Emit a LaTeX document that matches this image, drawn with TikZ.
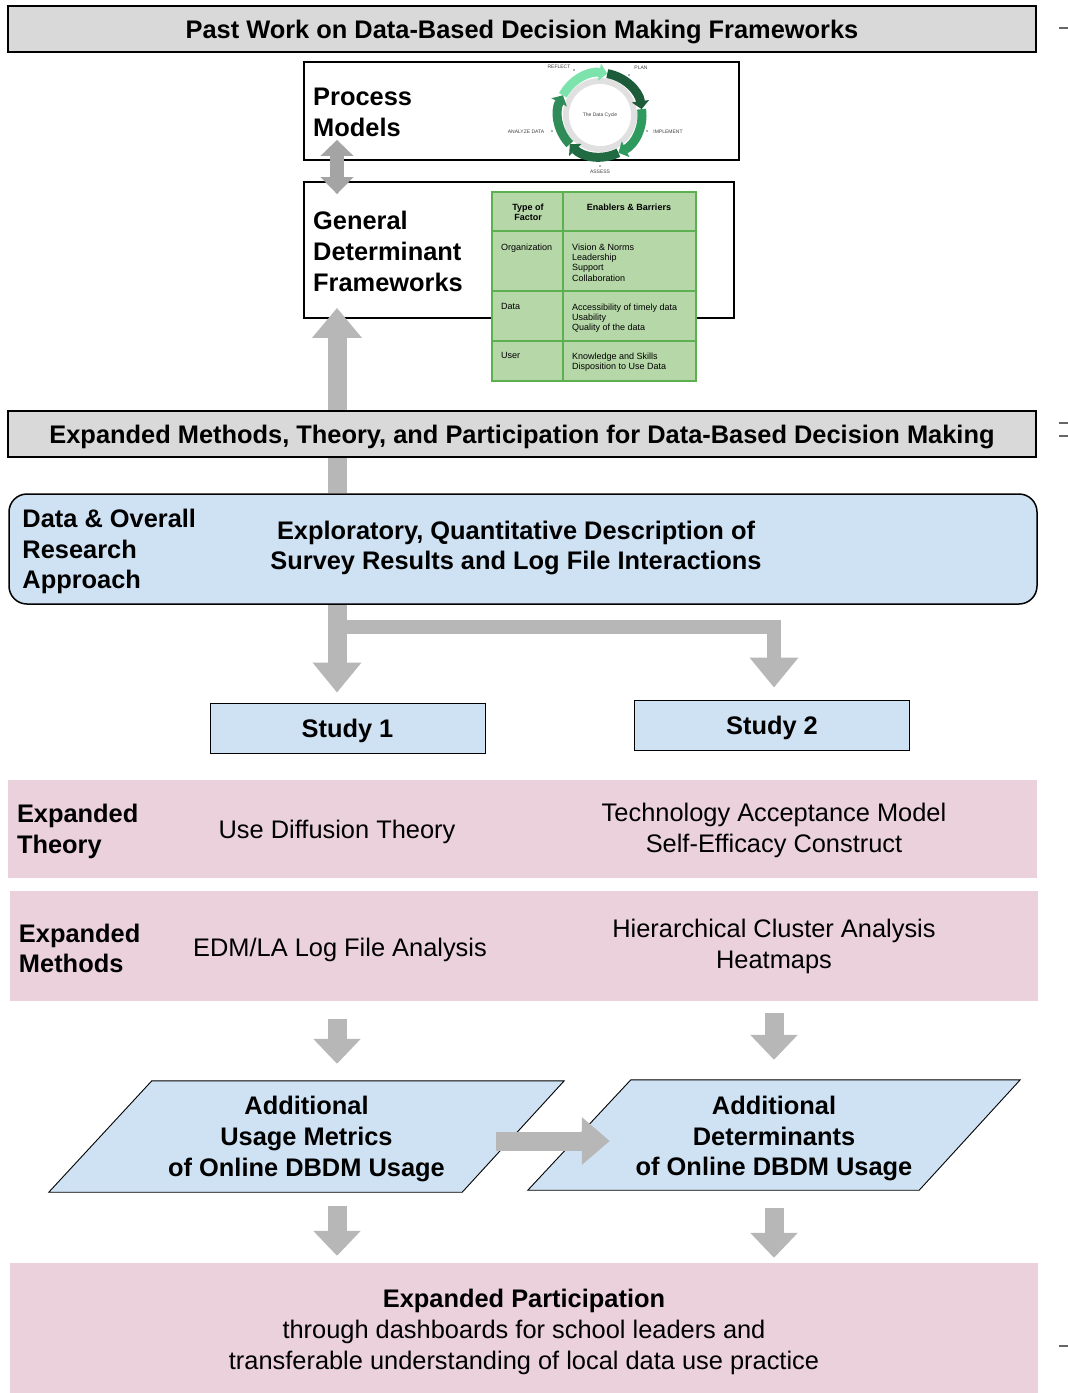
\documentclass[tikz,border=0pt]{standalone}
\usepackage{fontspec}
\setmainfont{Liberation Sans}
\usetikzlibrary{arrows.meta,calc}
\definecolor{bannergray}{HTML}{D9D9D9}
\definecolor{paleblue}{HTML}{CFE2F3}
\definecolor{palepink}{HTML}{EAD1DC}
\definecolor{arrowgray}{HTML}{B7B7B7}
\definecolor{dblgray}{HTML}{A4A4A4}
\definecolor{tablegreen}{HTML}{B6D7A8}
\definecolor{tableline}{HTML}{5DB04F}
\definecolor{cyclemint}{HTML}{7DE3AC}
\definecolor{cycledark}{HTML}{1D5C3A}
\definecolor{cyclemid}{HTML}{2E9A5E}
\definecolor{cycleforest}{HTML}{216B43}
\definecolor{cyclesea}{HTML}{2F8C59}
\newcommand{\bigfont}{\fontsize{25.4}{30.7}\selectfont}

\begin{document}
\begin{tikzpicture}[x=1pt,y=-1pt,line join=miter,
		banner/.style={draw,line width=2.2pt,fill=bannergray,minimum width=1028pt,
			minimum height=46pt,inner sep=0pt,text depth=0pt,font=\bigfont\bfseries},
		panel/.style={draw,line width=1.8pt,fill=white,inner sep=0pt},
		band/.style={fill=palepink,inner sep=0pt},
		studybox/.style={draw,line width=0.9pt,fill=paleblue,minimum width=275pt,
			minimum height=50pt,inner sep=0pt,text depth=0pt,font=\bigfont\bfseries},
		heading/.style={inner sep=0pt,align=left,font=\bigfont\bfseries},
		plain/.style={inner sep=0pt,align=center,yshift=-2.5pt,font=\bigfont},
		fatarrow/.style={arrowgray,line width=19pt,-{Triangle[width=47pt,length=30pt]}},
		downarrow/.style={fatarrow,-{Triangle[width=46pt,length=25pt]}},
		cell/.style={inner sep=0pt,align=left,anchor=north west,font=\fontsize{9}{10.3}\selectfont},
		tiny/.style={inner sep=0pt,text=black!75,font=\fontsize{5}{6}\selectfont}]
	\useasboundingbox (0,0) rectangle (1068,1393);
	\coordinate (lcol) at (337,0);
	\coordinate (rcol) at (774,0);
	
	% past work
	\node[banner] (pastwork) at (522,29) {Past Work on Data-Based Decision Making Frameworks};
	\node[panel,minimum width=435pt,minimum height=98pt] (procmod) at (521.5,111) {};
	\node[heading,anchor=north west] (procmodtxt) at (313,88) {Process\\Models};
	
	% the data cycle
	\begin{scope}[shift={(600,115)},y=1pt]
		\fill[black!12] (0,0) circle[radius=37];
		\fill[white] (0,0) circle[radius=31];
		\foreach \A/\B/\C in {152/80/cyclemint,80/8/cycledark,8/-64/cyclemid,-64/-136/cycleforest,-136/-208/cyclesea}
		{\draw[\C,line width=9pt,-{Triangle[width=17pt,length=8pt]}] (\A:42) arc[start angle=\A,end angle=\B,radius=42];}
		\node[tiny] (cyc) at (0,0) {The Data Cycle};
		\foreach \P/\T [count=\Y] in {{-41,48}/REFLECT,{41,47}/PLAN,{68,-17}/IMPLEMENT,{0,-57}/ASSESS,{-74,-17}/ANALYZE DATA}
		{\node[tiny] (cyc\Y) at (\P) {\T};}
		\foreach \P in {{-26,45},{29,40},{47,-16},{0,-51},{-48,-16}}
		{\fill[black!60] (\P) circle[radius=0.8];}
	\end{scope}
	
	\node[panel,minimum width=430pt,minimum height=136pt] (gdf) at (519,250) {};
	\node[heading,anchor=north west] (gdftxt) at (313,211) {General\\Determinant\\Frameworks};
	
	% factor table
	\node[draw=tableline,fill=tablegreen,line width=1.6pt,minimum width=204pt,
		minimum height=189pt,inner sep=0pt] (factors) at (594,286.5) {};
	\draw[tableline,line width=1.6pt] ([xshift=72pt]factors.north west) -- ([xshift=72pt]factors.south west);
	\foreach \Y in {40,100,150}
	{\draw[tableline,line width=1.6pt] ([yshift=-\Y pt]factors.north west) -- ([yshift=-\Y pt]factors.north east);}
	\node[cell,anchor=center,align=center,font=\fontsize{9}{10.3}\selectfont\bfseries] (typehead) at (528,212.5) {Type of\\Factor};
	\node[cell,anchor=center,font=\fontsize{9}{10.3}\selectfont\bfseries] (enabhead) at (629,207.5) {Enablers \& Barriers};
	\foreach \F/\E/\T [count=\Y] in {Organization/{Vision \& Norms\\Leadership\\Support\\Collaboration}/243.5,
		Data/{Accessibility of timely data\\Usability\\Quality of the data}/303.5,
		User/{Knowledge and Skills\\Disposition to Use Data}/352.5}
	{\node[cell] (type\Y) at (501,\T) {\F};
		\node[cell] (enab\Y) at (572,\T) {\E};}
	
	\draw[dblgray,line width=14pt,{Triangle[width=32pt,length=16pt]}-{Triangle[width=32pt,length=17pt]}]
		($(procmod.south -| lcol)+(0,-21)$) -- ($(gdf.north -| lcol)+(0,13)$);
	
	% expanded methods
	\node[draw,line width=1.5pt,fill=paleblue,rounded corners=18pt,minimum width=1028pt,
		minimum height=110pt] (approach) at (523,549) {};
	\node[heading,anchor=west,yshift=-2.5pt] (approachtxt) at ([xshift=14pt]approach.west) {Data \& Overall\\Research\\Approach};
	\node[plain,font=\bigfont\bfseries] (approachdesc) at (516,545.5) {Exploratory, Quantitative Description of\\Survey Results and Log File Interactions};
	\draw[fatarrow,-{Triangle[width=48pt,length=30pt]}] (approach.north -| lcol) -- ($(gdf.south -| lcol)+(0,-11)$);
	\node[banner] (expmeth) at (522,434) {Expanded Methods, Theory, and Participation for Data-Based Decision Making};
	
	\node[studybox] (study1) at (347.5,728) {Study 1};
	\node[studybox] (study2) at (772,725) {Study 2};
	\draw[fatarrow,line width=13.5pt] ($(approach.south -| lcol)+(0,22)$) -| ($(study2.north -| rcol)+(0,-12)$);
	\draw[fatarrow] (approach.south -| lcol) -- ($(study1.north -| lcol)+(0,-10)$);
	
	% theory and methods
	\node[band,minimum width=1029pt,minimum height=98pt] (theory) at (522.5,829) {};
	\node[heading,anchor=west,yshift=-2.5pt] (theorylbl) at ([xshift=9pt]theory.west) {Expanded\\Theory};
	\node[plain] (theory1) at (theory -| lcol) {Use Diffusion Theory};
	\node[plain] (theory2) at ($(theory -| rcol)+(0,-1)$) {Technology Acceptance Model\\Self-Efficacy Construct};
	\node[band,minimum width=1028pt,minimum height=110pt] (methods) at (524,946) {};
	\node[heading,anchor=west,yshift=-2.5pt] (methodslbl) at ([xshift=9pt]methods.west) {Expanded\\Methods};
	\node[plain] (methods1) at ($(methods -| lcol)+(3,1)$) {EDM/LA Log File Analysis};
	\node[plain] (methods2) at ($(methods -| rcol)+(0,-2)$) {Hierarchical Cluster Analysis\\Heatmaps};
	
	% outcomes
	\node[minimum width=515pt,minimum height=111pt,inner sep=0pt] (usage) at (306.5,1136.5) {};
	\draw[line width=0.9pt,fill=paleblue] (usage.south west) -- ([xshift=-102pt]usage.south east)
		-- (usage.north east) -- ([xshift=103pt]usage.north west) -- cycle;
	\node[plain,font=\bigfont\bfseries] (usagetxt) at (usage) {Additional\\Usage Metrics\\of Online DBDM Usage};
	\node[minimum width=492pt,minimum height=110pt,inner sep=0pt] (determ) at (774,1135) {};
	\draw[line width=0.9pt,fill=paleblue] (determ.south west) -- ([xshift=-101pt]determ.south east)
		-- (determ.north east) -- ([xshift=103pt]determ.north west) -- cycle;
	\node[plain,font=\bigfont\bfseries] (determtxt) at ($(determ)+(0,1)$) {Additional\\Determinants\\of Online DBDM Usage};
	\draw[fatarrow,-{Triangle[width=46pt,length=28pt]}] ($(usage.east)+(-68,4.5)$) -- ($(determ.west)+(82,6)$);
	
	\node[band,minimum width=1028pt,minimum height=130pt] (partic) at (524,1328) {};
	\node[plain] (partictxt) at ($(partic)+(0,1.5)$) {\textbf{Expanded Participation}\\through dashboards for school leaders and\\transferable understanding of local data use practice};
	
	\draw[downarrow] ($(methods.south -| lcol)+(0,18)$) -- ($(usage.north -| lcol)+(0,-17)$);
	\draw[downarrow] ($(methods.south -| rcol)+(0,12)$) -- ($(determ.north -| rcol)+(0,-20)$);
	\draw[downarrow] ($(usage.south -| lcol)+(0,14)$) -- ($(partic.north -| lcol)+(0,-7)$);
	\draw[downarrow] ($(determ.south -| rcol)+(0,18)$) -- ($(partic.north -| rcol)+(0,-5)$);
	
	%\draw[red] (0,0) grid[step=100] (1068,1393);
	\foreach \Y in {28,423,436,1346}
	{\draw[black!60,line width=2pt] (1059,\Y) -- (1068,\Y);}
\end{tikzpicture}
\end{document}
